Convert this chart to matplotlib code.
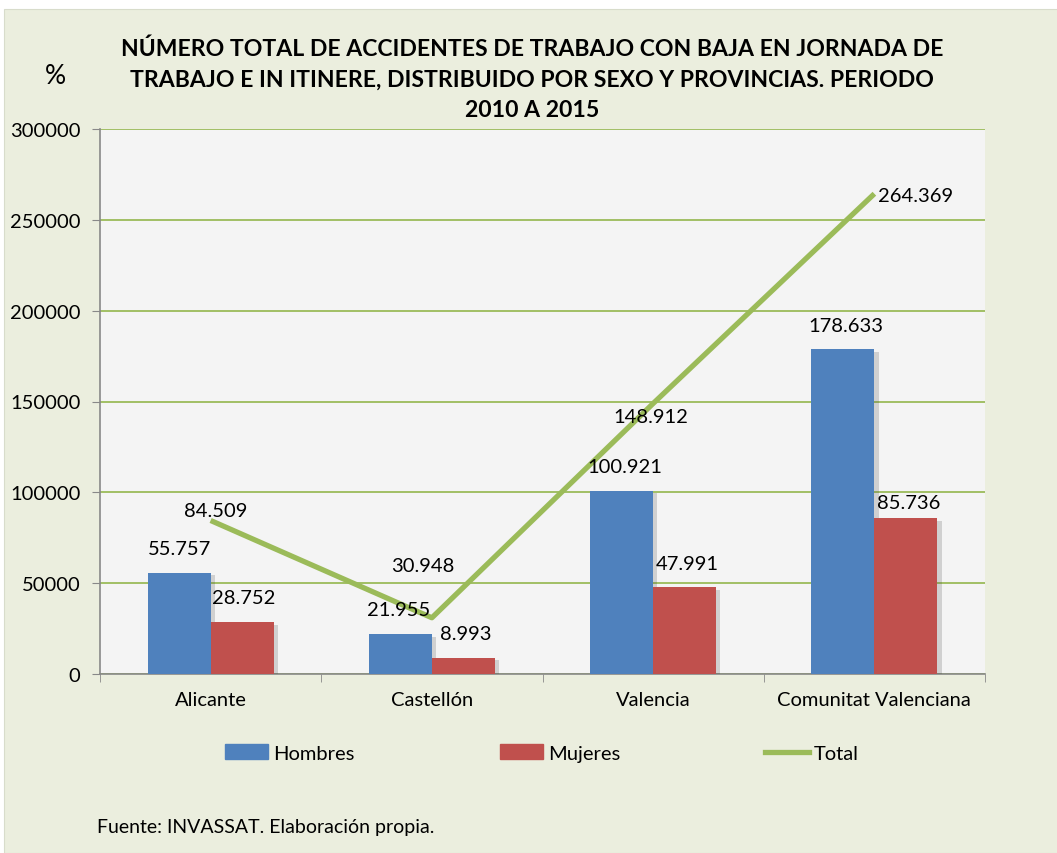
import matplotlib
matplotlib.use("Agg")
import matplotlib.pyplot as plt
import matplotlib.patches as mpatches
import matplotlib.patheffects as pe
from matplotlib.lines import Line2D
import numpy as np

categories = ["Alicante", "Castellón", "Valencia", "Comunitat Valenciana"]
hombres = [55757, 21955, 100921, 178633]
mujeres = [28752, 8993, 47991, 85736]
total = [84509, 30948, 148912, 264369]
hombres_labels = ["55.757", "21.955", "100.921", "178.633"]
mujeres_labels = ["28.752", "8.993", "47.991", "85.736"]
total_labels = ["84.509", "30.948", "148.912", "264.369"]
yticks = [0, 50000, 100000, 150000, 200000, 250000, 300000]

title = ("NÚMERO TOTAL DE ACCIDENTES DE TRABAJO CON BAJA EN JORNADA DE\n"
         "TRABAJO E IN ITINERE, DISTRIBUIDO POR SEXO Y PROVINCIAS. PERIODO\n"
         "2010 A 2015")
source = "Fuente: INVASSAT. Elaboración propia."

BLUE = "#4F81BD"
RED = "#C0504D"
GREEN = "#9BBB59"
BG = "#EBEEDE"
PLOT_BG = "#F4F4F4"
FONT = ["Lato", "DejaVu Sans"]
plt.rcParams["font.family"] = FONT

fig = plt.figure(figsize=(10.57, 8.54), dpi=100, facecolor="white")
fig.patches.append(mpatches.Rectangle((4/1057, 0), 1, 1 - 10/854, transform=fig.transFigure,
                                      facecolor=BG, edgecolor="#D8DCCB", lw=0.8, zorder=-10))

ax = fig.add_axes([100/1057, 1 - 675/854, 885/1057, 545/854])
ax.set_facecolor(PLOT_BG)

x = np.arange(len(categories))
w = 0.285
shadow = [pe.SimplePatchShadow(offset=(3, -2), shadow_rgbFace="#444444", alpha=0.2), pe.Normal()]
ax.bar(x - w/2, hombres, w, color=BLUE, zorder=3, path_effects=shadow)
ax.bar(x + w/2, mujeres, w, color=RED, zorder=3, path_effects=shadow)
ax.plot(x, total, color=GREEN, lw=3.8, zorder=4, solid_capstyle="butt")

fs = 14.5
hombres_off = [(0, 11.5), (-1, 11.5), (2, 11), (2, 11)]
mujeres_off = [(1, 11), (2, 11), (2, 11), (2, 5)]
total_off = [(4, 7), (-6.5, 38), (-1.5, -9.5), (30, -1)]
for xi, v, t, o in zip(x - w/2, hombres, hombres_labels, hombres_off):
    ax.annotate(t, (xi, v), xytext=o, textcoords="offset points", ha="center", va="bottom",
                fontsize=fs, zorder=6)
for xi, v, t, o in zip(x + w/2, mujeres, mujeres_labels, mujeres_off):
    ax.annotate(t, (xi, v), xytext=o, textcoords="offset points", ha="center", va="bottom",
                fontsize=fs, zorder=6)
for xi, v, t, o in zip(x, total, total_labels, total_off):
    ax.annotate(t, (xi, v), xytext=o, textcoords="offset points", ha="center", va="center",
                fontsize=fs, zorder=6)

ax.set_xlim(-0.5, 3.5)
ax.set_ylim(0, 300000)
ax.set_yticks(yticks)
ax.set_yticklabels([str(v) for v in yticks], fontsize=fs)
ax.yaxis.grid(True, color=GREEN, lw=1.3, zorder=1)
ax.set_axisbelow(True)
ax.set_xticks(x)
ax.set_xticklabels(categories, fontsize=fs)
ax.tick_params(axis="x", length=0, pad=12)
ax.tick_params(axis="y", length=6, color="#888888", pad=8)
ax.set_xticks(np.arange(-0.5, 3.6, 1), minor=True)
ax.tick_params(axis="x", which="minor", length=6, color="#888888")
for s in ["top", "right"]:
    ax.spines[s].set_visible(False)
ax.spines["left"].set_color("#888888")
ax.spines["bottom"].set_color("#888888")
ax.spines["left"].set_linewidth(1.2)
ax.spines["bottom"].set_linewidth(1.2)

fig.text(532/1057, 1 - 80/854, title, ha="center", va="center", fontsize=16.6,
         fontweight="bold", linespacing=1.57)
fig.text(55/1057, 1 - 77/854, "%", ha="center", va="center", fontsize=19)

handles = [mpatches.Patch(color=BLUE, label="Hombres"),
           mpatches.Patch(color=RED, label="Mujeres"),
           Line2D([], [], color=GREEN, lw=3.8, label="Total")]
fig.legend(handles=handles, loc="center", bbox_to_anchor=(542/1057, 1 - 754/854), ncol=3,
           frameon=False, fontsize=fs, handlelength=2.15, handleheight=0.7, handletextpad=0.25,
           columnspacing=7.2)

fig.text(97/1057, 1 - 828/854, source, ha="left", va="center", fontsize=14)

fig.savefig("out.png", dpi=100, facecolor=fig.get_facecolor())
